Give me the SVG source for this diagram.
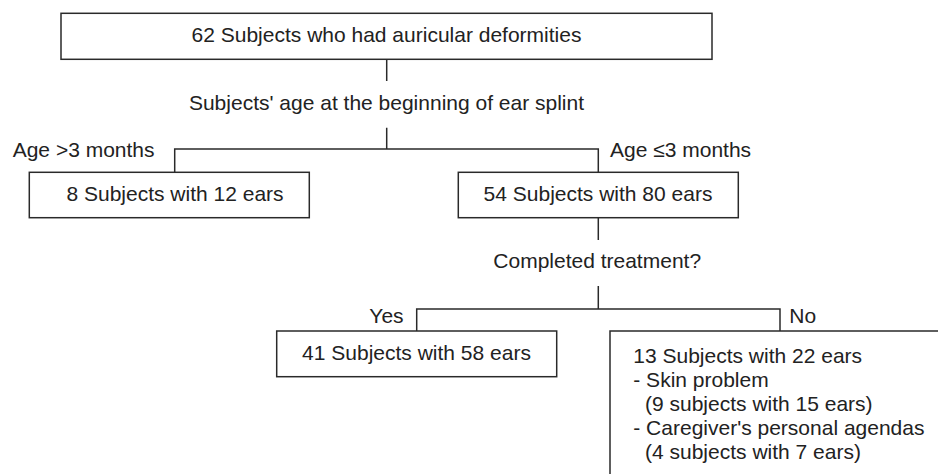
<svg xmlns="http://www.w3.org/2000/svg" width="938" height="474" viewBox="0 0 938 474">
<style>
.box{fill:#fff;stroke:#2a2a2a;stroke-width:1.5}
.ln{fill:none;stroke:#2a2a2a;stroke-width:1.5}
text{font-family:"Liberation Sans",Arial,sans-serif;font-size:21px;fill:#222}
.c{text-anchor:middle}
</style>
<rect width="938" height="474" fill="#fff"/>
<g id="connectors">
<path class="ln" d="M386.7 59.3V81"/>
<path class="ln" d="M386.7 127.7V149M174.7 172.3V149H598.3V172.3"/>
<path class="ln" d="M598.3 217.7V240"/>
<path class="ln" d="M598.3 286V309M416.7 331V309H780V331"/>
</g>
<g id="n-top">
<rect class="box" x="61" y="13.3" width="651" height="46"/>
<text class="c" x="386.5" y="42">62 Subjects who had auricular deformities</text>
</g>
<g id="q-age">
<text class="c" x="386.5" y="110">Subjects' age at the beginning of ear splint</text>
</g>
<g id="lbl-gt3">
<text x="12.7" y="157">Age &gt;3 months</text>
</g>
<g id="lbl-le3">
<text x="610" y="157">Age ≤3 months</text>
</g>
<g id="n-8">
<rect class="box" x="29.3" y="172.3" width="280" height="45.4"/>
<text class="c" x="175" y="201">8 Subjects with 12 ears</text>
</g>
<g id="n-54">
<rect class="box" x="458.3" y="172.3" width="280" height="45.4"/>
<text class="c" x="598" y="201">54 Subjects with 80 ears</text>
</g>
<g id="q-completed">
<text x="493.3" y="268">Completed treatment?</text>
</g>
<g id="lbl-yes">
<text x="369.3" y="323">Yes</text>
</g>
<g id="lbl-no">
<text x="789.3" y="323">No</text>
</g>
<g id="n-41">
<rect class="box" x="276.7" y="331" width="280" height="45.7"/>
<text class="c" x="416.5" y="360">41 Subjects with 58 ears</text>
</g>
<g id="n-13">
<path class="box" d="M938 331H610V474"/>
<text x="633.3" y="363">13 Subjects with 22 ears</text>
<text x="633.3" y="387">- Skin problem</text>
<text x="645" y="411">(9 subjects with 15 ears)</text>
<text x="633.3" y="435">- Caregiver's personal agendas</text>
<text x="645" y="459">(4 subjects with 7 ears)</text>
</g>
</svg>
